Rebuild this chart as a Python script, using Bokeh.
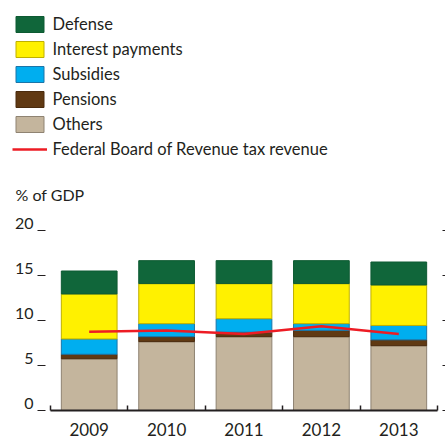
from bokeh.plotting import figure
from bokeh.models import (ColumnDataSource, Range1d, FixedTicker, LinearAxis,
                          Legend, LegendItem)
from bokeh.embed import file_html
from bokeh.resources import INLINE
from bokeh.core.properties import value

# ---- data ----
years = ["2009", "2010", "2011", "2012", "2013"]
others = [5.75, 7.65, 8.2, 8.2, 7.2]
pensions = [0.5, 0.55, 0.5, 0.7, 0.65]
subsidies = [1.7, 1.45, 1.5, 0.75, 1.6]
interest = [5.0, 4.45, 3.9, 4.45, 4.5]
defense = [2.55, 2.55, 2.55, 2.55, 2.55]
fbr_revenue = [8.75, 8.9, 8.5, 9.35, 8.5]
y_ticks = [0, 5, 10, 15, 20]
series_names = ["Others", "Pensions", "Subsidies", "Interest payments", "Defense"]
line_name = "Federal Board of Revenue tax revenue"
y_title = "% of GDP"

FONT = "Lato"
TXT = "#231f20"

fill_colors = ["#c4b59d", "#603913", "#00aeef", "#fff100", "#10663a"]
line_colors = ["#8f8372", "#4a2b0e", "#1b75a8", "#bfb000", "#0d5a32"]

n = len(years)
xs = [i + 0.5 for i in range(n)]
src = ColumnDataSource(dict(x=xs, others=others, pensions=pensions, subsidies=subsidies,
                            interest=interest, defense=defense, fbr=fbr_revenue))
keys = ["others", "pensions", "subsidies", "interest", "defense"]

# pixel geometry of the canvas: category 0 edge at px 50, category 5 edge at px 437
W, H = 445, 438
PXU = 387 / n            # px per category
PYU = 9.0                # px per % of GDP
X0_PX, Y0_PX = 50, 410   # canvas px of x=0, y=0


def xd(px):
    return (px - X0_PX) / PXU


def yd(py):
    return (Y0_PX - py) / PYU


p = figure(frame_width=W, frame_height=H, output_backend="svg", toolbar_location=None,
           x_range=Range1d(xd(0), xd(W)), y_range=Range1d(yd(H), yd(0)),
           x_axis_location=None, y_axis_location=None,
           min_border=0, outline_line_color=None)
p.xgrid.visible = False
p.ygrid.visible = False

bars = p.vbar_stack(keys, x="x", width=0.72, source=src, fill_color=fill_colors,
                    line_color=line_colors, line_width=1)
ln = p.line(x="x", y="fbr", source=src, line_color="#ed1c24", line_width=2.5)

# x axis placed at y = 0
xa = LinearAxis(fixed_location=0)
xa.ticker = FixedTicker(ticks=xs, minor_ticks=list(range(n + 1)))
xa.major_label_overrides = {x: y for x, y in zip(xs, years)}
xa.bounds = (0, n)
xa.axis_line_width = 2
xa.axis_line_color = TXT
xa.major_tick_in = 0
xa.major_tick_out = 0
xa.minor_tick_in = 5
xa.minor_tick_out = 0
xa.minor_tick_line_color = TXT
xa.minor_tick_line_width = 1.5
xa.major_label_text_font = FONT
xa.major_label_text_font_size = "17px"
xa.major_label_text_color = TXT
xa.major_label_standoff = 12
p.add_layout(xa, "below")

# tick dashes left and right of the plotting area
p.scatter(x=[xd(41)] * len(y_ticks), y=y_ticks, marker="dash", size=8,
          line_color=TXT, line_width=1.2)
p.scatter(x=[xd(443.5)] * len(y_ticks), y=y_ticks, marker="dash", size=3,
          line_color=TXT, line_width=1.2)

# y tick labels sitting on their dashes
p.text(x=[xd(33)] * len(y_ticks), y=y_ticks, text=[str(t) for t in y_ticks], y_offset=-7,
       text_align="right", text_baseline="alphabetic", text_font=value(FONT),
       text_font_size="16px", text_color=TXT)

p.text(x=[xd(15)], y=[yd(194)], text=[y_title], text_align="left",
       text_baseline="alphabetic", text_font=value(FONT), text_font_size="16px",
       text_color=TXT)

# area glyphs in a Bokeh legend are inset by 10 %, so 35 x 20 gives 28 x 16 swatches
items = [LegendItem(label=series_names[i], renderers=[bars[i]]) for i in reversed(range(5))]
items.append(LegendItem(label=line_name, renderers=[ln]))
legend = Legend(items=items, location=(11.5, H - 150 - 11), padding=0, margin=0, spacing=0,
                glyph_width=35, glyph_height=20, label_height=25, label_standoff=6,
                label_text_font=FONT, label_text_font_size="16.5px", label_text_color=TXT,
                border_line_color=None, background_fill_alpha=0)
p.add_layout(legend, "center")

open("out.html", "w").write(file_html(p, INLINE))
